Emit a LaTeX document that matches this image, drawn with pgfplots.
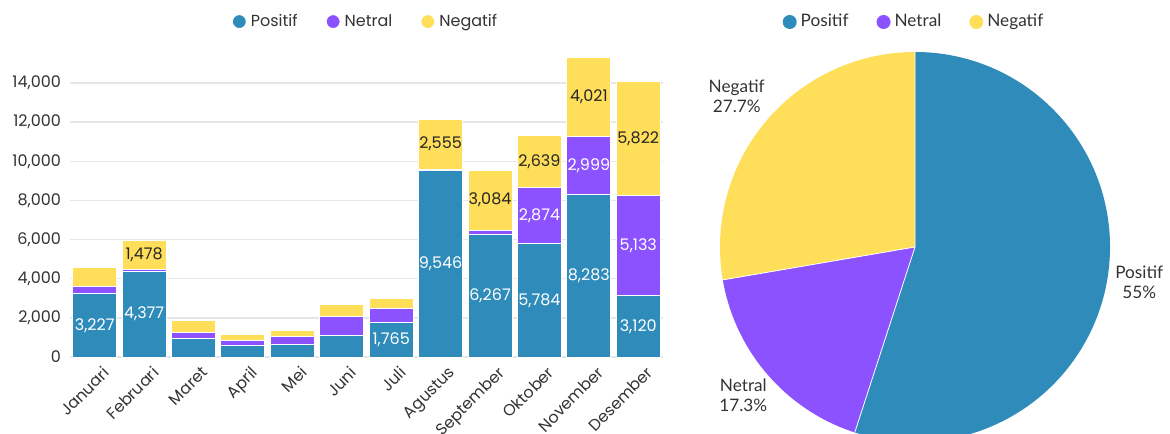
\documentclass[border=0pt]{standalone}
\usepackage{pgfplots}
\usepackage{pgfplotstable}
\usepackage{fontspec}
\pgfplotsset{compat=1.18}
\setmainfont{Poppins}
\newfontfamily\piefont{Lato}

\definecolor{cpos}{HTML}{2E8BBA}
\definecolor{cnet}{HTML}{8C52FF}
\definecolor{cneg}{HTML}{FFDE59}
\definecolor{ctxt}{HTML}{333333}
\definecolor{cgrid}{HTML}{E6E6E6}

% monthly counts per sentiment
\pgfplotstableread{
x pos net neg
0 3227 350 1020
1 4377 100 1478
2 960 300 580
3 600 220 306
4 620 420 306
5 1090 970 600
6 1765 700 545
7 9546 50 2555
8 6267 200 3084
9 5784 2874 2639
10 8283 2999 4021
11 3120 5133 5822
}\monthly

% yearly share, percent
\def\piepos{55}
\def\pienet{17.3}
\def\pieneg{27.7}

\newcommand{\smallfont}{\fontsize{8}{10}\selectfont}
\newcommand{\piesize}{\fontsize{8.6}{10}\selectfont}

\pgfplotsset{
  dotlegend/.style={
    legend image code/.code={\fill[##1] (0pt,0pt) circle (3.5pt);},
    legend style={draw=none, fill=none, at={(0.5,1)}, anchor=center,
      legend columns=3, font=\smallfont, text=ctxt,
      /tikz/every even column/.append style={column sep=12pt}},
  },
}

\begin{document}
\begin{tikzpicture}
\useasboundingbox (0,0) rectangle (585pt,216.5pt);
\clip (0,0) rectangle (585pt,216.5pt);

% stacked bars
\begin{axis}[
  at={(35pt,38pt)}, anchor=south west,
  scale only axis, width=296.5pt, height=150.7pt,
  ybar stacked, bar width=22pt,
  xmin=-0.5, xmax=11.5, ymin=0, ymax=15400,
  xtick=data,
  xticklabels={Januari,Februari,Maret,April,Mei,Juni,Juli,Agustus,September,Oktober,November,Desember},
  ytick={0,2000,...,14000},
  ymajorgrids, grid style={cgrid, line width=0.7pt},
  axis line style={draw=none}, major tick length=0pt,
  scaled y ticks=false,
  /pgf/number format/assume math mode=true,
  yticklabel style={font=\smallfont, text=ctxt, xshift=-1pt, /pgf/number format/1000 sep={,}},
  xticklabel style={font=\smallfont, text=ctxt, rotate=45, anchor=north east, xshift=3pt, yshift=-2pt},
  dotlegend, legend style={yshift=17pt},
]
\addplot[fill=cpos, draw=white, line width=0.5pt] table[x=x, y=pos]{\monthly};
\addplot[fill=cnet, draw=white, line width=0.5pt] table[x=x, y=net]{\monthly};
\addplot[fill=cneg, draw=white, line width=0.5pt] table[x=x, y=neg]{\monthly};
\legend{Positif, Netral, Negatif}
\end{axis}

% value labels centred in the segments
\begin{axis}[
  at={(35pt,38pt)}, anchor=south west,
  scale only axis, width=296.5pt, height=150.7pt,
  xmin=-0.5, xmax=11.5, ymin=0, ymax=15400, hide axis,
  point meta=explicit,
  nodes near coords={\pgfmathprintnumber[fixed, precision=0, 1000 sep={,}, assume math mode=true]{\pgfplotspointmeta}},
  nodes near coords align=center,
  every node near coord/.append style={font=\smallfont},
]
\addplot[draw=none, restrict expr to domain={\thisrow{pos}}{1400:100000},
  every node near coord/.append style={text=white}]
  table[x=x, y expr=\thisrow{pos}/2, meta=pos]{\monthly};
\addplot[draw=none, restrict expr to domain={\thisrow{net}}{1400:100000},
  every node near coord/.append style={text=white}]
  table[x=x, y expr=\thisrow{pos}+\thisrow{net}/2, meta=net]{\monthly};
\addplot[draw=none, restrict expr to domain={\thisrow{neg}}{1400:100000},
  every node near coord/.append style={text=black!85}]
  table[x=x, y expr=\thisrow{pos}+\thisrow{net}+\thisrow{neg}/2, meta=neg]{\monthly};
\end{axis}

% pie
\pgfmathsetmacro\aA{90-3.6*\piepos}
\pgfmathsetmacro\aB{\aA-3.6*\pienet}
\pgfmathsetmacro\mA{90-1.8*\piepos}
\pgfmathsetmacro\mB{\aA-1.8*\pienet}
\pgfmathsetmacro\mC{\aB-1.8*\pieneg}
\begin{axis}[
  at={(457.5pt,93pt)}, anchor=center,
  scale only axis, width=195pt, height=195pt,
  xmin=-1, xmax=1, ymin=-1, ymax=1, hide axis, clip=false,
  dotlegend, legend style={yshift=15pt, font=\piefont\piesize},
]
\addlegendimage{draw=none, fill=cpos}
\addlegendentry{Positif}
\addlegendimage{draw=none, fill=cnet}
\addlegendentry{Netral}
\addlegendimage{draw=none, fill=cneg}
\addlegendentry{Negatif}
\fill[cpos] (axis cs:0,0) -- ++(90:97.5pt) arc[start angle=90, end angle=\aA, radius=97.5pt] -- cycle;
\fill[cnet] (axis cs:0,0) -- ++(\aA:97.5pt) arc[start angle=\aA, end angle=\aB, radius=97.5pt] -- cycle;
\fill[cneg] (axis cs:0,0) -- ++(\aB:97.5pt) arc[start angle=\aB, end angle=-270, radius=97.5pt] -- cycle;
\draw[white, line width=0.4pt] (axis cs:0,0) -- ++(90:97.5pt)
  (axis cs:0,0) -- ++(\aA:97.5pt) (axis cs:0,0) -- ++(\aB:97.5pt);
\path[font=\piefont\piesize, text=ctxt, align=center]
  (axis cs:0,0) ++(\mA:113.5pt) node{Positif\\\piepos\%}
  (axis cs:0,0) ++(\mB:113.5pt) node{Netral\\\pienet\%}
  (axis cs:0,0) ++(\mC:114pt) node[xshift=-2pt, yshift=2pt]{Negatif\\\pieneg\%};
\end{axis}
\end{tikzpicture}
\end{document}
